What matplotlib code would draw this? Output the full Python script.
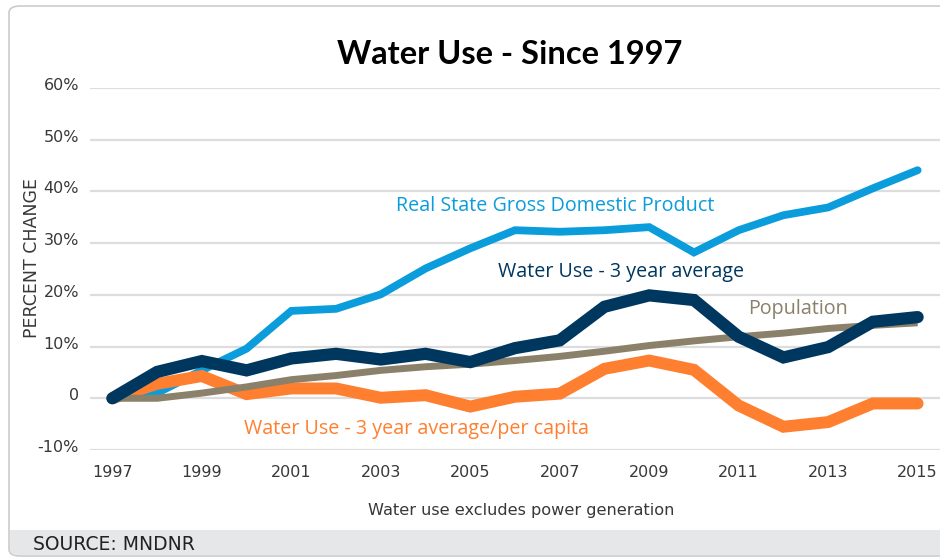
import matplotlib.pyplot as plt
from matplotlib.patches import FancyBboxPatch, Rectangle
from matplotlib.transforms import ScaledTranslation
import numpy as np

# Percent change since 1997
years = np.arange(1997, 2016)
gdp = [0, 1.0, 5.4, 9.6, 16.9, 17.3, 20.1, 25.1, 29.0, 32.5,
       32.2, 32.5, 33.1, 28.2, 32.5, 35.4, 36.9, 40.6, 44.1]
water_use = [0, 5.1, 7.2, 5.4, 7.7, 8.6, 7.5, 8.6, 7.0, 9.7,
             11.2, 17.7, 19.9, 19.0, 11.9, 7.9, 9.9, 14.8, 15.7]
population = [0, 0, 1.0, 2.2, 3.6, 4.4, 5.4, 6.1, 6.6, 7.3,
              8.1, 9.1, 10.2, 11.1, 11.9, 12.6, 13.5, 14.1, 14.6]
per_capita = [0, 2.8, 4.3, 0.8, 1.9, 1.9, 0.1, 0.6, -1.6, 0.3,
              0.9, 5.7, 7.3, 5.5, -1.4, -5.5, -4.6, -1.0, -1.0]

yticks = [-10, 0, 10, 20, 30, 40, 50, 60]
ytick_labels = ['-10%', '0', '10%', '20%', '30%', '40%', '50%', '60%']
xticks = list(range(1997, 2016, 2))

c_gdp = '#0a9cdb'
c_water = '#00375f'
c_pop = '#8b806a'
c_cap = '#ff7f30'
c_text = '#383838'

plt.rcParams['font.family'] = ['DejaVu Sans']

fig = plt.figure(figsize=(9.4, 5.58), dpi=100)

# card frame and source strip
frame = FancyBboxPatch((9 / 940, 2 / 558), 960 / 940, 550 / 558,
                       boxstyle='round,pad=0,rounding_size=0.012',
                       transform=fig.transFigure, facecolor='white',
                       edgecolor='#cccccc', linewidth=1.2, zorder=0)
fig.patches.append(frame)
strip = FancyBboxPatch((10 / 940, 3 / 558), 960 / 940, 25 / 558,
                       boxstyle='round,pad=0,rounding_size=0.01',
                       transform=fig.transFigure, facecolor='#e6e7e8',
                       edgecolor='none', zorder=1)
fig.patches.append(strip)
fig.patches.append(Rectangle((10 / 940, 15 / 558), 930 / 940, 13 / 558,
                             transform=fig.transFigure, facecolor='#e6e7e8',
                             edgecolor='none', zorder=1))

ax = fig.add_axes([90 / 940, 108 / 558, 850 / 940, 362 / 558])
ax.set_facecolor('none')
ax.set_zorder(3)

ax.plot(years, gdp, color=c_gdp, lw=5.6, solid_capstyle='round',
        solid_joinstyle='miter', zorder=2)
ax.plot(years, per_capita, color=c_cap, lw=8.6, solid_capstyle='round',
        solid_joinstyle='miter', zorder=3)
ax.plot(years, population, color=c_pop, lw=5.0, solid_capstyle='butt',
        zorder=4)
ax.plot(years, water_use, color=c_water, lw=8.8, solid_capstyle='round',
        solid_joinstyle='miter', zorder=5)

ax.set_xlim(1996.5, 2015.5)
ax.set_ylim(-10, 60)
ax.set_yticks(yticks)
ax.set_yticklabels(ytick_labels)
ax.set_xticks(xticks)
ax.set_xticklabels([str(y) for y in xticks])
ax.tick_params(length=0, labelsize=11.5, colors=c_text)
ax.tick_params(axis='y', pad=8)
ax.tick_params(axis='x', pad=11)
ax.grid(axis='y', color='#dddddd', lw=1.6, zorder=0)
ax.set_axisbelow(True)
for s in ax.spines.values():
    s.set_visible(False)

# y labels sit a little above their gridlines
up = ScaledTranslation(0, 4 / 100, fig.dpi_scale_trans)
for t in ax.get_yticklabels():
    t.set_transform(t.get_transform() + up)

lab = dict(family=['Open Sans', 'DejaVu Sans'], fontsize=14.2, ha='left',
           va='center')
ax.text(2003.33, 37.1, 'Real State Gross Domestic Product', color=c_gdp,
        **lab)
ax.text(2005.63, 24.4, 'Water Use - 3 year average', color=c_water, **lab)
ax.text(2011.22, 17.2, 'Population', color=c_pop, **lab)
ax.text(1999.95, -6.0, 'Water Use - 3 year average/per capita', color=c_cap,
        **lab)

fig.text(510 / 940, 1 - 54 / 558, 'Water Use - Since 1997', ha='center',
         va='center', fontsize=23.5, fontweight='bold', color='black',
         family=['Lato', 'DejaVu Sans'])
fig.text(32 / 940, 1 - 258 / 558, 'PERCENT CHANGE', rotation=90,
         ha='center', va='center', fontsize=12.5, color=c_text)
fig.text(521 / 940, 1 - 510 / 558, 'Water use excludes power generation',
         ha='center', va='center', fontsize=11.6, color=c_text)
fig.text(33 / 940, 1 - 544 / 558, 'SOURCE: MNDNR', ha='left', va='center',
         fontsize=13.5, color='#222222')

fig.savefig('out.png', dpi=100)
